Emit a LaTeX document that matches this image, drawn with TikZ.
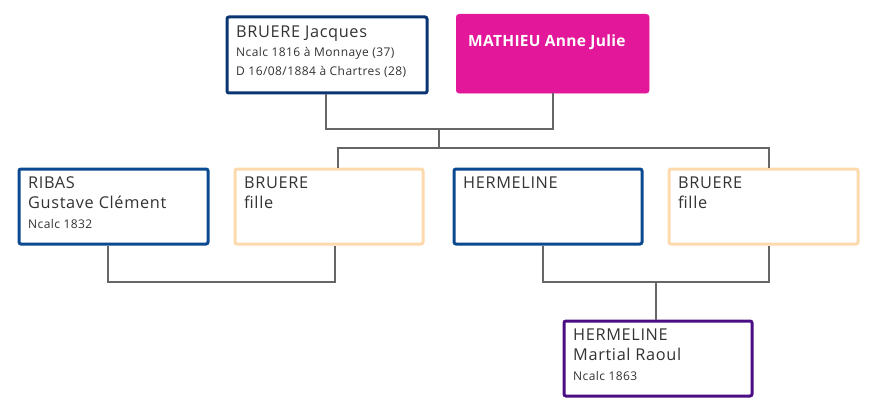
\documentclass[tikz,border=0pt]{standalone}
\usepackage{fontspec}
\setmainfont{Open Sans}
\newfontfamily\bigfont[LetterSpace=4]{Open Sans}
\newfontfamily\smallfont[LetterSpace=3.5]{Open Sans}
\newfontfamily\boldfont[LetterSpace=2]{Open Sans}
\definecolor{navy}{HTML}{0A3472}
\definecolor{mblue}{HTML}{0B4A90}
\definecolor{peach}{HTML}{FDD9AE}
\definecolor{magenta}{HTML}{E3179A}
\definecolor{purp}{HTML}{4A0D84}
\definecolor{linegray}{HTML}{666666}
\definecolor{txt}{HTML}{333333}
\tikzset{
  person/.style={draw, line width=3pt, rounded corners=2pt, fill=white, inner sep=0pt, minimum width=#1},
  big/.style={anchor=base west, inner sep=0pt, text=txt, font=\bigfont\fontsize{16.3}{18}\selectfont},
  small/.style={anchor=base west, inner sep=0pt, text=txt, font=\smallfont\fontsize{12}{13}\selectfont},
  conn/.style={draw=linegray, line width=1.8pt},
}
\begin{document}
\begin{tikzpicture}[x=1pt,y=-1pt]
\useasboundingbox (0,0) rectangle (876,412);
% boxes
\node[person=200pt, draw=navy, minimum height=76pt, anchor=north west] (jacques) at (225.5,15.5) {};
\node[draw=magenta, fill=magenta, rounded corners=3pt, minimum width=193pt, minimum height=79pt, inner sep=0pt, anchor=north west] (anne) at (456,14) {};
\node[person=189pt, draw=mblue, minimum height=75pt, anchor=north west] (ribas) at (17.5,167.5) {};
\node[person=188pt, draw=peach, minimum height=75pt, anchor=north west] (fille1) at (233.5,167.5) {};
\node[person=188pt, draw=mblue, minimum height=75pt, anchor=north west] (herm) at (452.5,167.5) {};
\node[person=189pt, draw=peach, minimum height=75pt, anchor=north west] (fille2) at (667.5,167.5) {};
\node[person=188pt, draw=purp, minimum height=75pt, anchor=north west] (martial) at (562.5,319.5) {};
% texts
\node[big] (t1) at (236,38) {BRUERE Jacques};
\node[small] (t2) at (236,57) {Ncalc 1816 à Monnaye (37)};
\node[small] (t3) at (236,76) {D 16/08/1884 à Chartres (28)};
\node[anchor=base west, inner sep=0pt, text=white, font=\boldfont\bfseries\fontsize{15.5}{18}\selectfont] (t4) at (468,47) {MATHIEU Anne Julie};
\node[big] (t5) at (28,188) {RIBAS};
\node[big] (t6) at (28,208.5) {Gustave Clément};
\node[small] (t7) at (28,228) {Ncalc 1832};
\node[big] (t8) at (244,188) {BRUERE};
\node[big] (t9) at (244,208.5) {fille};
\node[big] (t10) at (463,188) {HERMELINE};
\node[big] (t11) at (678,188) {BRUERE};
\node[big] (t12) at (678,208.5) {fille};
\node[big] (t13) at (573,340) {HERMELINE};
\node[big] (t14) at (573,360.5) {Martial Raoul};
\node[small] (t15) at (573,380) {Ncalc 1863};
% junction coordinates
\coordinate (u1) at (439,129);
\coordinate (s1) at (439,148);
\coordinate (u2) at (221.5,282);
\coordinate (u3) at (656,282);
% connectors
\draw[conn] (jacques.south -| 326,0) |- (u1) -| (anne.south -| 553,0);
\draw[conn] (u1) -- (s1);
\draw[conn] (fille1.north -| 338,0) |- (s1) -| (fille2.north -| 769,0);
\draw[conn] (ribas.south -| 108,0) |- (u2) -| (fille1.south -| 335,0);
\draw[conn] (herm.south -| 543,0) |- (u3) -| (fille2.south -| 769,0);
\draw[conn] (u3) -- (martial.north -| 656,0);
\end{tikzpicture}
\end{document}
